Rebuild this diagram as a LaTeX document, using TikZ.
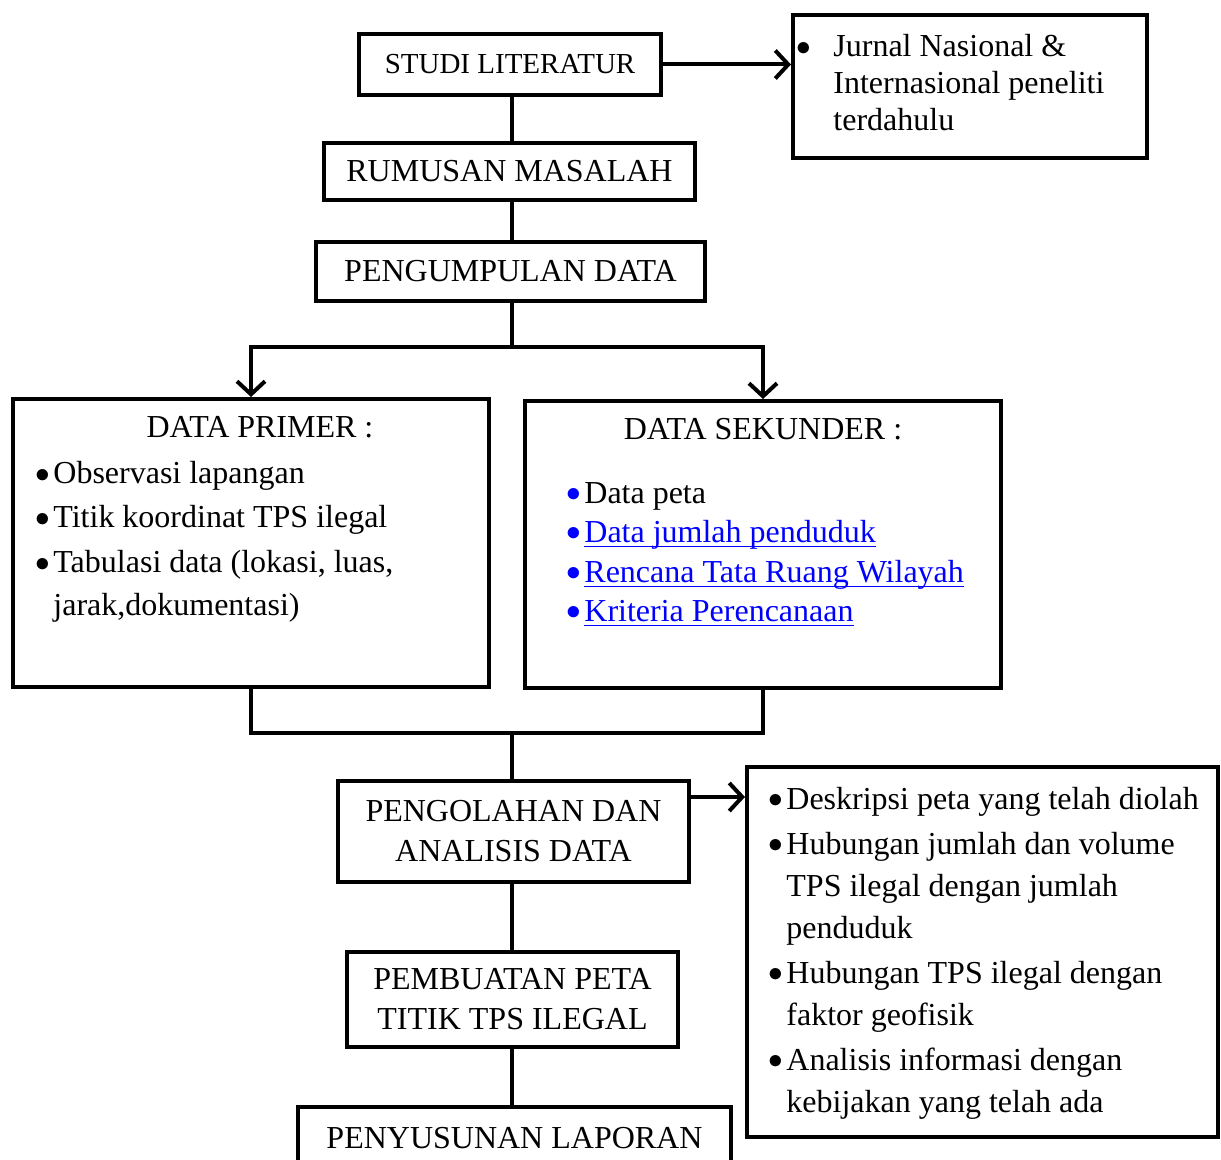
\documentclass[tikz,border=0pt]{standalone}
\usepackage{fontspec}
\setmainfont{Liberation Serif}
\usetikzlibrary{arrows.meta}
\definecolor{linkblue}{RGB}{0,0,255}
\newcommand\bulletdot{\raisebox{0.6pt}{\scalebox{0.85}{$\bullet$}}}
\newcommand\itm{\makebox[9.5pt][l]{\hspace{0.6pt}\bulletdot}}
\newcommand\blueitm{\makebox[9.5pt][l]{\hspace{0.6pt}\textcolor{linkblue}{\bulletdot}}}
\newcommand\link[1]{\textcolor{linkblue}{\setbox0\hbox{#1}\rlap{\rule[-2.6pt]{\wd0}{0.8pt}}\box0}}

\begin{document}
\begin{tikzpicture}[x=0.5pt, y=-0.5pt,
    box/.style={draw, line width=2pt, inner sep=0pt, align=center,
        font=\fontsize{16}{20}\selectfont},
    txt/.style={inner sep=0pt, anchor=base west, font=\fontsize{16}{20}\selectfont},
    conn/.style={line width=2pt},
    arr/.style={-{Straight Barb[length=6.5pt, width=14pt]}}]
\useasboundingbox (0,0) rectangle (1221,1160);

% boxes
\node[box, font=\fontsize{14.5}{18}\selectfont, minimum width=151pt, minimum height=30.5pt] (studi) at (510,64.5) {STUDI LITERATUR};
\node[box, minimum width=177pt, minimum height=71.5pt] (jurnal) at (970,86.5) {};
\node[box, minimum width=185.5pt, minimum height=28.5pt] (rumusan) at (509.5,171.5) {RUMUSAN MASALAH};
\node[box, minimum width=194.5pt, minimum height=29.5pt] (kumpul) at (510.5,271.5) {PENGUMPULAN DATA};
\node[box, minimum width=238pt, minimum height=144pt] (primer) at (251,543) {};
\node[box, minimum width=238pt, minimum height=143.5pt] (sekunder) at (763,544.5) {};
\node[box, minimum width=175.5pt, minimum height=50.5pt] (olah) at (513.5,831.5) {PENGOLAHAN DAN\\ANALISIS DATA};
\node[box, minimum width=235.5pt, minimum height=185pt] (hasil) at (982.5,952) {};
\node[box, minimum width=165.5pt, minimum height=47.5pt] (peta) at (512.5,999.5) {PEMBUATAN PETA\\TITIK TPS ILEGAL};
\node[box, minimum width=216.5pt, minimum height=31pt] (laporan) at (514.5,1138) {PENYUSUNAN LAPORAN};

% texts inside the boxes
\node[txt] (jurnalbullet) at (796,57) {\bulletdot};
\foreach \y/\t [count=\i] in {57/{Jurnal Nasional \&}, 94/{Internasional peneliti}, 131/terdahulu}
    \node[txt] (jurnal\i) at (833,\y) {\t};

\node[txt, anchor=base] (primerhead) at (260,438) {DATA PRIMER :};
\foreach \x/\y/\t [count=\i] in {34/484/{\itm Observasi lapangan},
    34/528/{\itm Titik koordinat TPS ilegal},
    34/573/{\itm Tabulasi data (lokasi, luas,},
    53/615/{jarak,dokumentasi)}}
    \node[txt] (primer\i) at (\x,\y) {\t};

\node[txt, anchor=base] (sekunderhead) at (763,440) {DATA SEKUNDER :};
\foreach \y/\t [count=\i] in {503/{\blueitm Data peta},
    542/{\blueitm\link{Data jumlah penduduk}},
    582/{\blueitm\link{Rencana Tata Ruang Wilayah}},
    621/{\blueitm\link{Kriteria Perencanaan}}}
    \node[txt] (sekunder\i) at (565,\y) {\t};

\foreach \x/\y/\t [count=\i] in {767/809/{\itm Deskripsi peta yang telah diolah},
    767/854/{\itm Hubungan jumlah dan volume},
    786/896/{TPS ilegal dengan jumlah},
    786/938/{penduduk},
    767/983/{\itm Hubungan TPS ilegal dengan},
    786/1025/{faktor geofisik},
    767/1070/{\itm Analisis informasi dengan},
    786/1112/{kebijakan yang telah ada}}
    \node[txt] (hasil\i) at (\x,\y) {\t};

% connectors
\coordinate (split) at (512,347);
\coordinate (merge) at (512,733);
\coordinate (olahout) at ([yshift=17.25pt]olah.east);

\draw[conn, arr] (studi.east) -- (studi.east -| jurnal.west);
\draw[conn] (studi.south -| split) -- (rumusan.north -| split);
\draw[conn] (rumusan.south -| split) -- (kumpul.north -| split);
\draw[conn] (kumpul.south -| split) -- (split);
\draw[conn, arr] (split) -| (primer.north);
\draw[conn, arr] (split) -| (sekunder.north);
\draw[conn] (primer.south) |- (merge) -| (sekunder.south);
\draw[conn] (merge) -- (olah.north -| merge);
\draw[conn, arr] (olahout) -- (olahout -| hasil.west);
\draw[conn] (olah.south -| merge) -- (peta.north -| merge);
\draw[conn] (peta.south -| merge) -- (laporan.north -| merge);
\end{tikzpicture}
\end{document}
